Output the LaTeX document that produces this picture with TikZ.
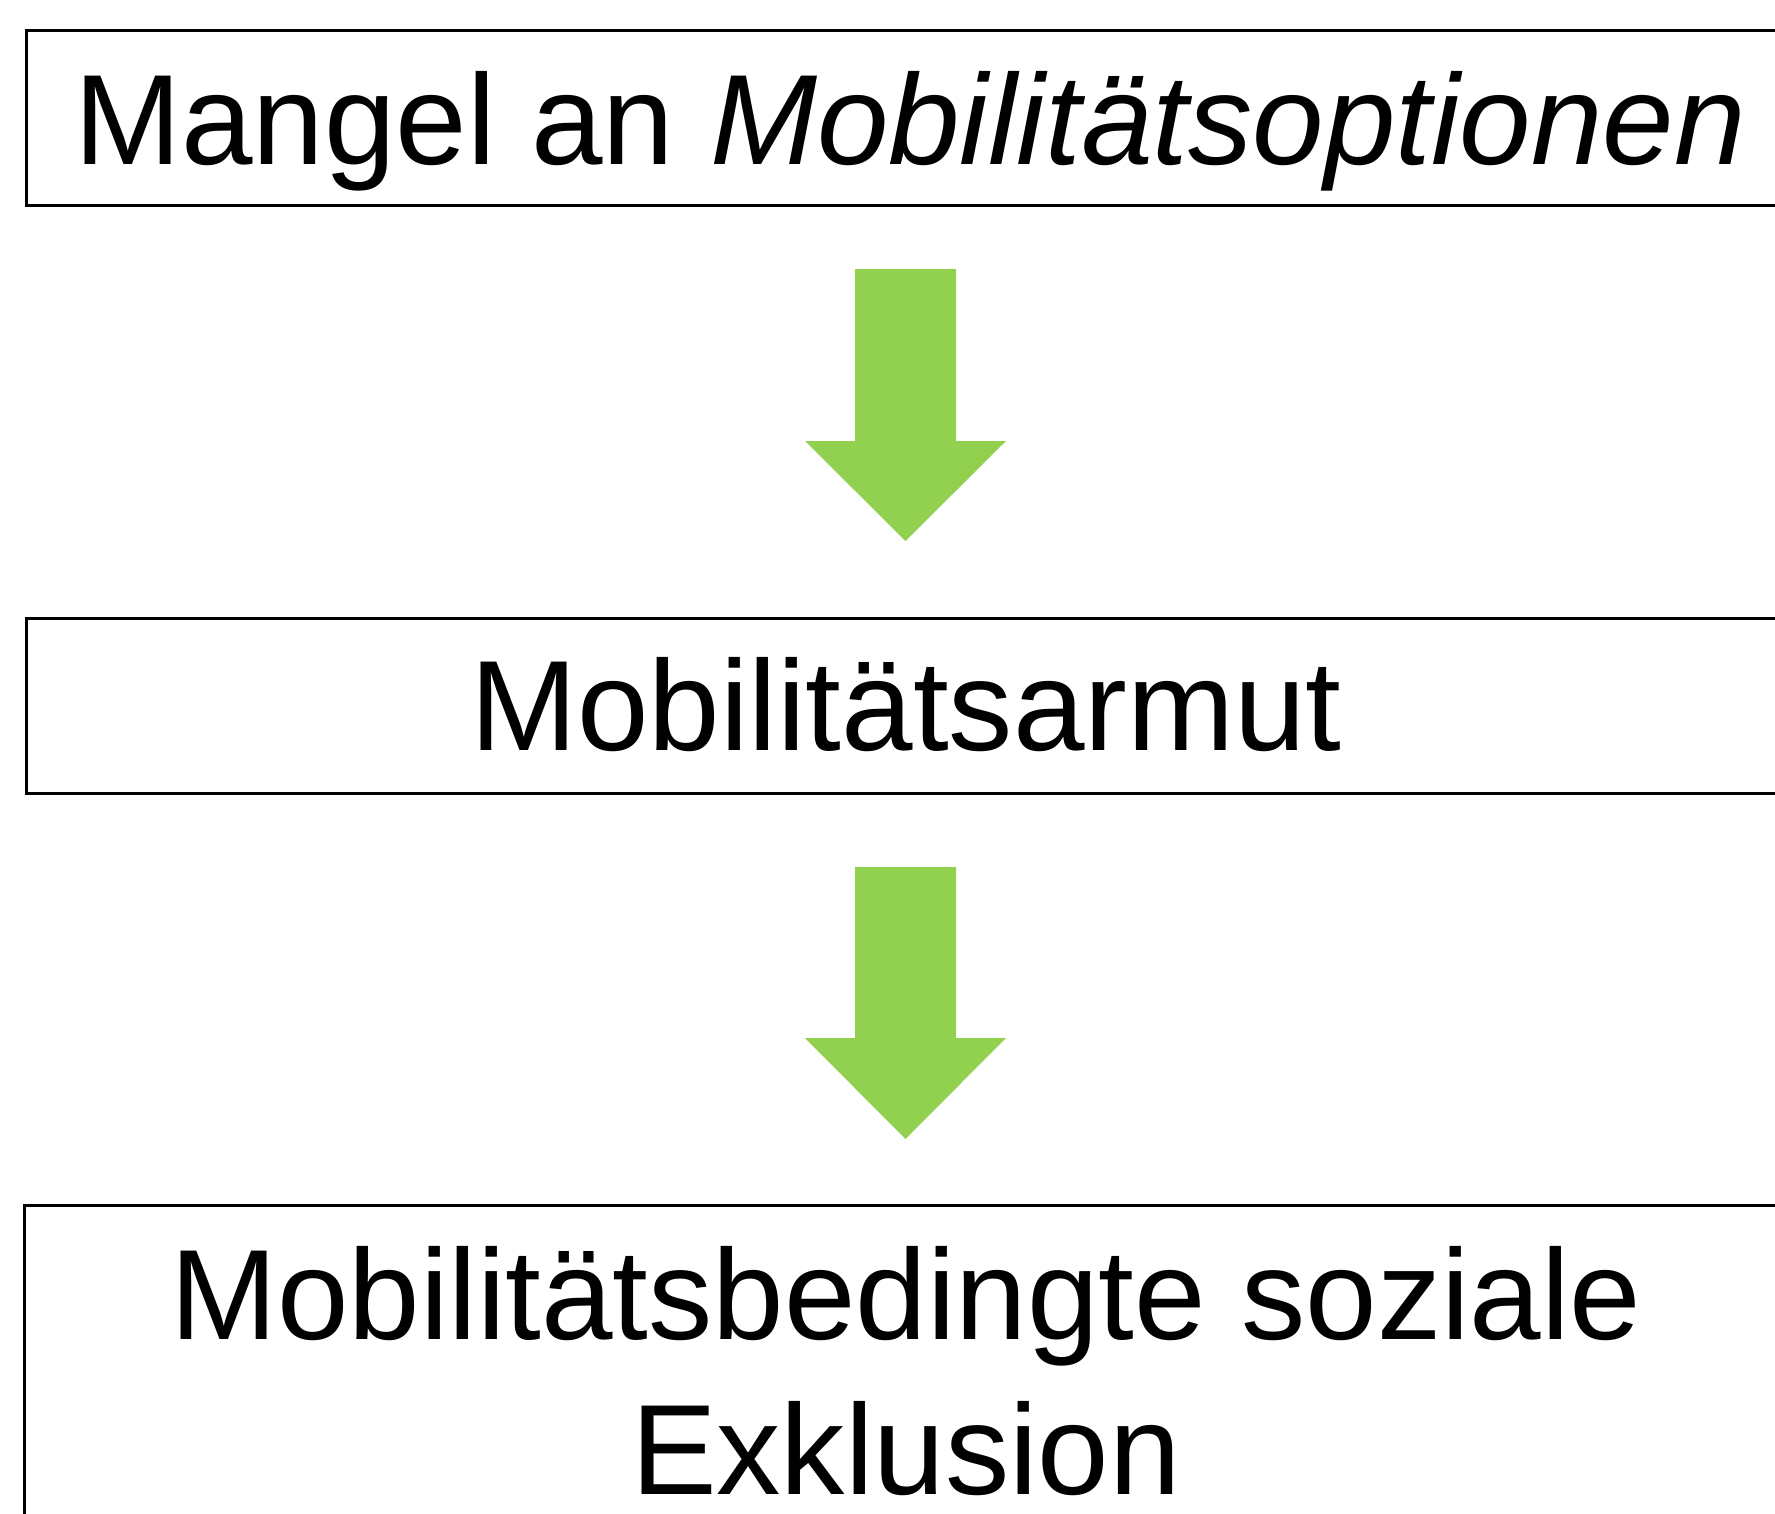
\documentclass[tikz,border=0pt]{standalone}
\usepackage{fontspec}
\setmainfont{Liberation Sans}
\definecolor{arrowgreen}{HTML}{92D050}
\begin{document}
\begin{tikzpicture}[x=1pt,y=-1pt,
  box/.style={draw=black,line width=2.6pt,inner sep=0pt,minimum width=1762pt,anchor=north west},
  txt/.style={font=\fontsize{128.5}{155}\selectfont,inner sep=0pt},
  greenarrow/.style={fill=arrowgreen,draw=none}]
\useasboundingbox (0,0) rectangle (1775,1513);
\clip (0,0) rectangle (1775,1513);
\node[box,minimum height=175pt] (b1) at (25,29) {};
\node[txt,anchor=base] (t1) at (910,164) {Mangel an \textit{Mobilitätsoptionen}};
\node[box,minimum height=175pt] (b2) at (25,617) {};
\node[txt,anchor=base] (t2) at (906,750) {Mobilitätsarmut};
\node[box,minimum height=330pt,minimum width=1764pt] (b3) at (23,1204) {};
\node[txt,anchor=base,align=center] (t3) at (906,1494) {Mobilitätsbedingte soziale\\Exklusion};
\fill[greenarrow] (855,269) -- (956,269) -- (956,441) -- (1006,441) -- (905.5,541) -- (805,441) -- (855,441) -- cycle;
\fill[greenarrow] (855,867) -- (956,867) -- (956,1038) -- (1006,1038) -- (905.5,1139) -- (805,1038) -- (855,1038) -- cycle;
\end{tikzpicture}
\end{document}
